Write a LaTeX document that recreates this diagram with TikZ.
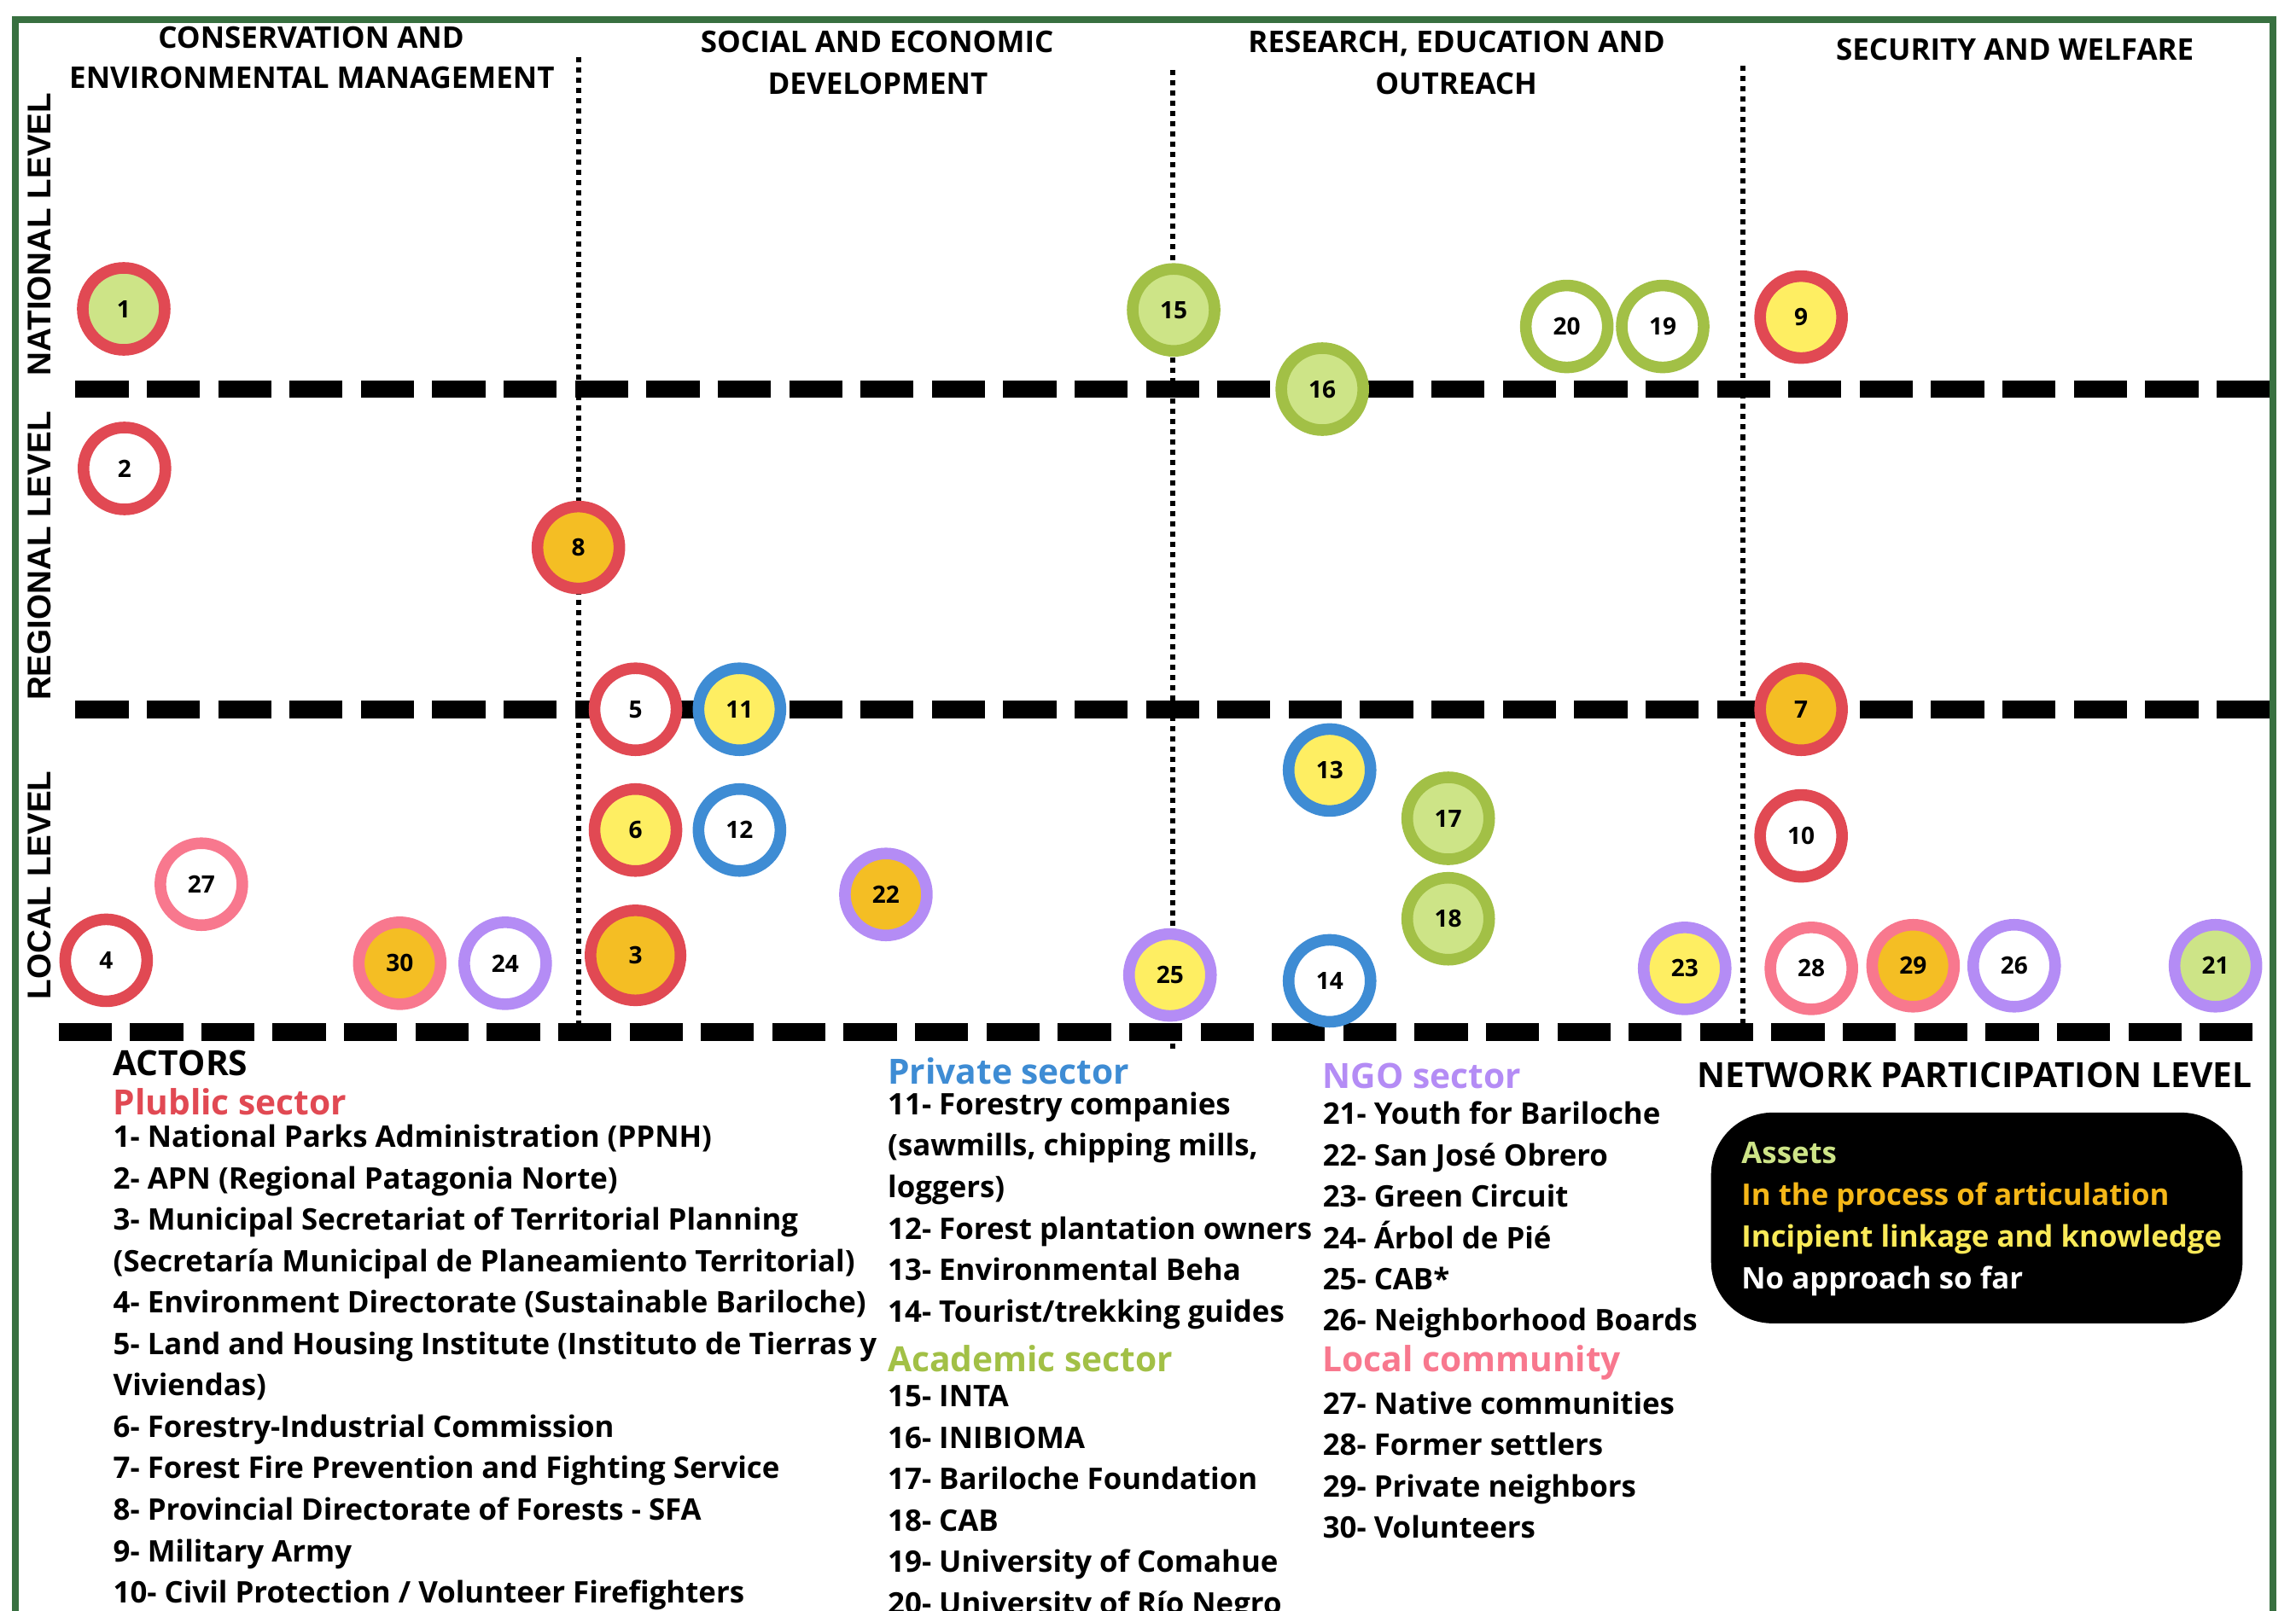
\documentclass[tikz,border=0pt]{standalone}
\usepackage{fontspec}
\setmainfont{Open Sans}
\newfontfamily\levelfont{Liberation Sans}
\usepackage{tikz}
\usetikzlibrary{positioning}
\definecolor{framegreen}{RGB}{56,112,64}
\definecolor{pubred}{RGB}{225,73,83}
\definecolor{privblue}{RGB}{62,140,212}
\definecolor{acadgreen}{RGB}{162,192,70}
\definecolor{ngopurple}{RGB}{180,140,245}
\definecolor{commpink}{RGB}{248,120,142}
\definecolor{fillgreen}{RGB}{205,228,135}
\definecolor{fillorange}{RGB}{244,190,36}
\definecolor{fillyellow}{RGB}{254,238,98}
\definecolor{txtorange}{RGB}{245,183,24}
\definecolor{txtyellow}{RGB}{250,234,88}
\tikzset{
  actor/.style={circle, minimum size=1.12cm, inner sep=0pt, line width=4.5pt,
    font=\fontsize{9.3}{9.3}\selectfont\bfseries},
  pub/.style={actor, draw=pubred},
  priv/.style={actor, draw=privblue},
  acad/.style={actor, draw=acadgreen},
  ngo/.style={actor, draw=ngopurple},
  comm/.style={actor, draw=commpink},
  asset/.style={fill=fillgreen},
  artic/.style={fill=fillorange},
  incip/.style={fill=fillyellow},
  noappr/.style={fill=white},
  colhead/.style={anchor=base, inner sep=0pt, font=\fontsize{11.6}{14}\selectfont\bfseries},
  rowhead/.style={rotate=90, inner sep=0pt, font=\levelfont\fontsize{12.8}{14}\selectfont\bfseries},
  listitem/.style={anchor=base west, inner sep=0pt, font=\fontsize{11.55}{13}\selectfont\bfseries},
  sector/.style={anchor=base west, inner sep=0pt, font=\fontsize{13.5}{15}\selectfont\bfseries},
  levelsep/.style={line width=6.8pt, dash pattern=on 0.726cm off 0.249cm},
  colsep/.style={line width=0.07cm, dash pattern=on 0.07cm off 0.07cm}
}
\begin{document}
\begin{tikzpicture}[x=0.02cm, y=-0.02cm]
  \clip (0,0) rectangle (1568,1100);
  \fill[white] (0,0) rectangle (1568,1100);

  % Frame
  \draw[framegreen, line width=2.6pt] (10.4,1130) -- (10.4,13.6) -- (1552,13.6) -- (1552,1130);

  % Column headers
  \node[colhead] (h1a) at (212.5,33) {CONSERVATION AND};
  \node[colhead] (h1b) at (213,60.6) {ENVIRONMENTAL MANAGEMENT};
  \node[colhead] (h2a) at (599,36) {SOCIAL AND ECONOMIC};
  \node[colhead] (h2b) at (599.5,64.5) {DEVELOPMENT};
  \node[colhead] (h3a) at (994.8,36) {RESEARCH, EDUCATION AND};
  \node[colhead] (h3b) at (994.5,64.5) {OUTREACH};
  \node[colhead] (h4) at (1376,41.2) {SECURITY AND WELFARE};

  % Row headers
  \node[rowhead] (national) at (26.7,160) {NATIONAL LEVEL};
  \node[rowhead] (regional) at (26.7,379.8) {REGIONAL LEVEL};
  \node[rowhead] (local) at (26.7,604.7) {LOCAL LEVEL};

  % Grid
  \draw[colsep] (395,39) -- (395,700);
  \draw[colsep] (801,48) -- (801,718);
  \draw[colsep] (1190,45) -- (1190,700);
  \draw[levelsep] (51.5,265.7) -- (1551,265.7);
  \draw[levelsep] (51.5,484.6) -- (1551,484.6);
  \draw[levelsep] (40,705) -- (1539,705);

  % Public sector
  \node[pub, asset] (a1) at (84.5,211) {1};
  \node[pub, noappr] (a2) at (85,320) {2};
  \node[pub, artic, minimum size=1.23cm] (a3) at (434,652.6) {3};
  \node[pub, noappr] (a4) at (72.5,656) {4};
  \node[pub, noappr] (a5) at (434,484.5) {5};
  \node[pub, incip] (a6) at (434,567) {6};
  \node[pub, artic] (a7) at (1230,484.5) {7};
  \node[pub, artic] (a8) at (395,374) {8};
  \node[pub, incip] (a9) at (1230,216.6) {9};
  \node[pub, noappr] (a10) at (1230,571) {10};
  % Private sector
  \node[priv, incip] (a11) at (505,484.5) {11};
  \node[priv, noappr] (a12) at (505,567) {12};
  \node[priv, incip] (a13) at (908,526) {13};
  \node[priv, noappr] (a14) at (908,670) {14};
  % Academic sector
  \node[acad, asset] (a15) at (801.5,211.7) {15};
  \node[acad, asset] (a16) at (903,265.8) {16};
  \node[acad, asset] (a17) at (989,559) {17};
  \node[acad, asset] (a18) at (989,627.6) {18};
  \node[acad, noappr] (a19) at (1135.5,223) {19};
  \node[acad, noappr] (a20) at (1070,223) {20};
  % NGO sector
  \node[ngo, asset] (a21) at (1513,659.7) {21};
  \node[ngo, artic] (a22) at (605,611) {22};
  \node[ngo, incip] (a23) at (1150.5,661.5) {23};
  \node[ngo, noappr] (a24) at (345,658) {24};
  \node[ngo, incip] (a25) at (799,666) {25};
  \node[ngo, noappr] (a26) at (1375.5,659.7) {26};
  % Local community
  \node[comm, noappr] (a27) at (137.5,604) {27};
  \node[comm, noappr] (a28) at (1237,661.5) {28};
  \node[comm, artic] (a29) at (1306.5,659.7) {29};
  \node[comm, artic] (a30) at (273,658) {30};

  % Actors list
  \node[sector] (actors) at (77,734.6) {ACTORS};
  \node[sector, text=pubred] (pubsec) at (77,761.4) {Plublic sector};
  \foreach \t [count=\i from 0] in {
    1- National Parks Administration (PPNH),
    2- APN (Regional Patagonia Norte),
    3- Municipal Secretariat of Territorial Planning,
    (Secretaría Municipal de Planeamiento Territorial),
    4- Environment Directorate (Sustainable Bariloche),
    5- Land and Housing Institute (Instituto de Tierras y,
    Viviendas),
    6- Forestry-Industrial Commission,
    7- Forest Fire Prevention and Fighting Service,
    8- Provincial Directorate of Forests - SFA,
    9- Military Army,
    10- Civil Protection / Volunteer Firefighters}
    \node[listitem] (pub\i) at (77,{783.7+28.3*\i}) {\t};

  \node[sector, text=privblue] (privsec) at (606,740.4) {Private sector};
  \foreach \t [count=\i from 0] in {
    11- Forestry companies,
    {(sawmills, chipping mills,}, 
    loggers),
    12- Forest plantation owners,
    13- Environmental Beha,
    14- Tourist/trekking guides}
    \node[listitem] (priv\i) at (606,{761.5+28.3*\i}) {\t};

  \node[sector, text=acadgreen] (acadsec) at (606,937) {Academic sector};
  \foreach \t [count=\i from 0] in {
    15- INTA, 16- INIBIOMA, 17- Bariloche Foundation, 18- CAB,
    19- University of Comahue, 20- University of Río Negro}
    \node[listitem] (acad\i) at (606,{961+28.3*\i}) {\t};

  \node[sector, text=ngopurple] (ngosec) at (903,743.5) {NGO sector};
  \foreach \t [count=\i from 0] in {
    21- Youth for Bariloche, 22- San José Obrero, 23- Green Circuit,
    24- Árbol de Pié, 25- CAB*, 26- Neighborhood Boards}
    \node[listitem] (ngo\i) at (903,{768+28.26*\i}) {\t};

  \node[sector, text=commpink] (commsec) at (903,937) {Local community};
  \foreach \t [count=\i from 0] in {
    27- Native communities, 28- Former settlers,
    29- Private neighbors, 30- Volunteers}
    \node[listitem] (comm\i) at (903,{966+28.2*\i}) {\t};

  % Participation level legend
  \node[sector, anchor=base] (netlevel) at (1348.5,743) {NETWORK PARTICIPATION LEVEL};
  \node[fill=black, rounded corners=0.84cm, minimum width=7.26cm, minimum height=2.88cm,
    inner sep=0pt] (levelbox) at (1350,832) {};
  \node[listitem, text=fillgreen] (lv1) at (1189,794.6) {Assets};
  \node[listitem, text=txtorange] (lv2) at (1189,823.2) {In the process of articulation};
  \node[listitem, text=txtyellow] (lv3) at (1189,851.8) {Incipient linkage and knowledge};
  \node[listitem, text=white] (lv4) at (1189,880.4) {No approach so far};
\end{tikzpicture}
\end{document}
